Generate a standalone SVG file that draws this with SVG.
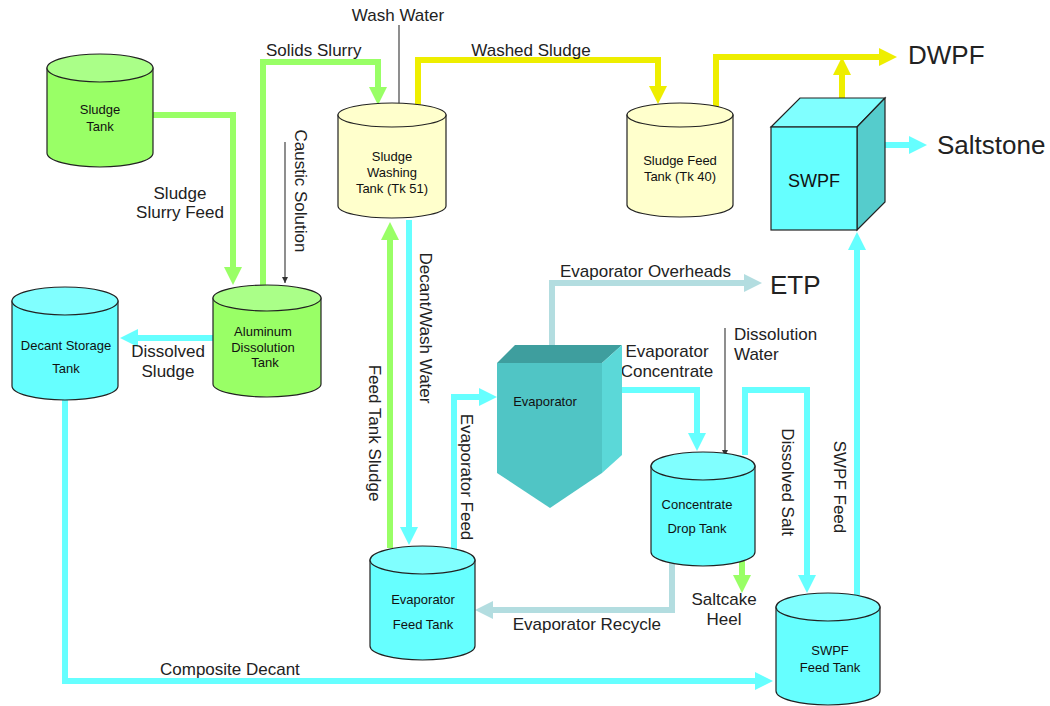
<svg xmlns="http://www.w3.org/2000/svg" width="1050" height="706" viewBox="0 0 1050 706">
<style>
text{font-family:"Liberation Sans",Arial,sans-serif;fill:#222}
.lbl{font-size:17px}
.big{font-size:26px}
.tk{font-size:13px;fill:#111;text-anchor:middle}
.mid{text-anchor:middle}
.flow{fill:none;stroke-width:6;stroke-linejoin:miter}
.g{stroke:#99FF66}.c{stroke:#66FFFF}.y{stroke:#EEEE00}.b{stroke:#B3DDE0}
.thin{fill:none;stroke:#444;stroke-width:1.2}
.body{stroke:#222;stroke-width:1.2}
.gr{fill:#99FF66}.grt{fill:#AAFF88}
.cy{fill:#66FFFF}.cyt{fill:#80FFFF}
.yl{fill:#FFFFCC}
</style>
<defs>
<marker id="aG" viewBox="0 0 10 10" refX="0" refY="5" markerWidth="3" markerHeight="3" orient="auto"><path d="M0,0 L10,5 L0,10 z" fill="#99FF66"/></marker>
<marker id="aC" viewBox="0 0 10 10" refX="0" refY="5" markerWidth="3" markerHeight="3" orient="auto"><path d="M0,0 L10,5 L0,10 z" fill="#66FFFF"/></marker>
<marker id="aY" viewBox="0 0 10 10" refX="0" refY="5" markerWidth="3" markerHeight="3" orient="auto"><path d="M0,0 L10,5 L0,10 z" fill="#EEEE00"/></marker>
<marker id="aB" viewBox="0 0 10 10" refX="0" refY="5" markerWidth="3" markerHeight="3" orient="auto"><path d="M0,0 L10,5 L0,10 z" fill="#B3DDE0"/></marker>
<marker id="aT" viewBox="0 0 10 10" refX="10" refY="5" markerWidth="6" markerHeight="6" markerUnits="userSpaceOnUse" orient="auto"><path d="M0,0 L10,5 L0,10 z" fill="#333"/></marker>
</defs>

<g id="connectors">
<path class="flow g" d="M152,115 H233 V267" marker-end="url(#aG)"/>
<path class="flow g" d="M263,285 V62 H378 V87" marker-end="url(#aG)"/>
<path class="flow c" d="M213,338 H138" marker-end="url(#aC)"/>
<path class="flow c" d="M65,386 V681 H755" marker-end="url(#aC)"/>
<path class="flow y" d="M418,120 V60 H658 V86" marker-end="url(#aY)"/>
<path class="flow y" d="M716,115 V57 H879" marker-end="url(#aY)"/>
<path class="flow y" d="M842,107 V75" marker-end="url(#aY)"/>
<path class="flow c" d="M885,145 H909" marker-end="url(#aC)"/>
<path class="flow g" d="M390,548 V240" marker-end="url(#aG)"/>
<path class="flow c" d="M409,220 V527" marker-end="url(#aC)"/>
<path class="flow c" d="M454,553 V397 H479" marker-end="url(#aC)"/>
<path class="flow b" d="M552,350 V283 H744" marker-end="url(#aB)"/>
<path class="flow c" d="M612,390 H697 V433" marker-end="url(#aC)"/>
<path class="flow c" d="M745,455 V390 H807 V575" marker-end="url(#aC)"/>
<path class="flow c" d="M857,595 V250" marker-end="url(#aC)"/>
<path class="flow g" d="M742,556 V575" marker-end="url(#aG)"/>
<path class="flow b" d="M672,556 V610 H493" marker-end="url(#aB)"/>
<path class="thin" d="M399,25 V112" marker-end="url(#aT)"/>
<path class="thin" d="M285,142 V283" marker-end="url(#aT)"/>
<path class="thin" d="M725,328 V456" marker-end="url(#aT)"/>
</g>

<g id="labels">
<text class="lbl mid" x="398" y="21">Wash Water</text>
<text class="lbl" x="266" y="56">Solids Slurry</text>
<text class="lbl mid" x="531" y="56">Washed Sludge</text>
<text class="lbl mid" x="180" y="199">Sludge</text>
<text class="lbl mid" x="180" y="218">Slurry Feed</text>
<text class="lbl mid" transform="translate(295,191) rotate(90)">Caustic Solution</text>
<text class="lbl mid" x="168" y="357">Dissolved</text>
<text class="lbl mid" x="168" y="377">Sludge</text>
<text class="lbl mid" transform="translate(420,328) rotate(90)">Decant/Wash Water</text>
<text class="lbl mid" transform="translate(369,433) rotate(90)">Feed Tank Sludge</text>
<text class="lbl mid" transform="translate(461,477) rotate(90)">Evaporator Feed</text>
<text class="lbl" x="560" y="277">Evaporator Overheads</text>
<text class="big" x="770" y="294">ETP</text>
<text class="lbl mid" x="667" y="357">Evaporator</text>
<text class="lbl mid" x="667" y="377">Concentrate</text>
<text class="lbl" x="734" y="340">Dissolution</text>
<text class="lbl" x="734" y="360">Water</text>
<text class="lbl mid" transform="translate(782,482) rotate(90)">Dissolved Salt</text>
<text class="lbl mid" transform="translate(834,487) rotate(90)">SWPF Feed</text>
<text class="lbl mid" x="724" y="605">Saltcake</text>
<text class="lbl mid" x="724" y="625">Heel</text>
<text class="lbl" x="661" y="630" text-anchor="end">Evaporator Recycle</text>
<text class="lbl" x="160" y="675">Composite Decant</text>
<text class="big" x="908" y="64">DWPF</text>
<text class="big" x="937" y="154">Saltstone</text>
</g>

<g id="sludge-tank">
<path class="body gr" d="M47,68 V153 A53,14 0 0 0 153,153 V68 Z"/>
<ellipse class="body grt" cx="100" cy="68" rx="53" ry="14"/>
<text class="tk" x="100" y="114">Sludge</text>
<text class="tk" x="100" y="131">Tank</text>
</g>

<g id="aluminum-dissolution-tank">
<path class="body gr" d="M213,298 V384 A54,13 0 0 0 321,384 V298 Z"/>
<ellipse class="body grt" cx="267" cy="298" rx="54" ry="13"/>
<text class="tk" x="263" y="336">Aluminum</text>
<text class="tk" x="263" y="352">Dissolution</text>
<text class="tk" x="265" y="367">Tank</text>
</g>

<g id="decant-storage-tank">
<path class="body cy" d="M12,301 V386 A53,14 0 0 0 118,386 V301 Z"/>
<ellipse class="body cyt" cx="65" cy="301" rx="53" ry="14"/>
<text class="tk" x="66" y="350">Decant Storage</text>
<text class="tk" x="66" y="373">Tank</text>
</g>

<g id="sludge-washing-tank">
<path class="body yl" d="M338,115 V206 A54,12 0 0 0 446,206 V115 Z"/>
<ellipse class="body yl" cx="392" cy="115" rx="54" ry="12"/>
<text class="tk" x="392" y="161">Sludge</text>
<text class="tk" x="392" y="177">Washing</text>
<text class="tk" x="392" y="193">Tank (Tk 51)</text>
</g>

<g id="sludge-feed-tank">
<path class="body yl" d="M627,115 V205 A53,12 0 0 0 733,205 V115 Z"/>
<ellipse class="body yl" cx="680" cy="115" rx="53" ry="12"/>
<text class="tk" x="680" y="165">Sludge Feed</text>
<text class="tk" x="680" y="181">Tank (Tk 40)</text>
</g>

<g id="swpf">
<polygon class="body" fill="#80FFFF" points="771,127 800,98 885,98 857,127"/>
<polygon class="body" fill="#55CCCC" points="857,127 885,98 885,202 857,230"/>
<rect class="body cy" x="771" y="127" width="86" height="103"/>
<text class="mid" x="814" y="187" style="font-size:18px;fill:#111">SWPF</text>
</g>

<g id="evaporator">
<polygon fill="#3E9E9E" points="497,363 515,345 622,345 602,363"/>
<polygon fill="#5BD8D8" points="602,363 622,345 622,455 602,473"/>
<polygon fill="#50C5C5" points="497,363 602,363 602,473 550,508 497,473"/>
<text class="tk" x="545" y="406">Evaporator</text>
</g>

<g id="concentrate-drop-tank">
<path class="body cy" d="M651,466 V552 A52,14 0 0 0 755,552 V466 Z"/>
<ellipse class="body cyt" cx="703" cy="466" rx="52" ry="14"/>
<text class="tk" x="697" y="509">Concentrate</text>
<text class="tk" x="697" y="533">Drop Tank</text>
</g>

<g id="evaporator-feed-tank">
<path class="body cy" d="M370,560 V646 A52.5,14 0 0 0 475,646 V560 Z"/>
<ellipse class="body cyt" cx="422.5" cy="560" rx="52.5" ry="14"/>
<text class="tk" x="423" y="604">Evaporator</text>
<text class="tk" x="423" y="629">Feed Tank</text>
</g>

<g id="swpf-feed-tank">
<path class="body cy" d="M776,607 V691 A52,14 0 0 0 880,691 V607 Z"/>
<ellipse class="body cyt" cx="828" cy="607" rx="52" ry="14"/>
<text class="tk" x="830" y="655">SWPF</text>
<text class="tk" x="830" y="672">Feed Tank</text>
</g>
</svg>
